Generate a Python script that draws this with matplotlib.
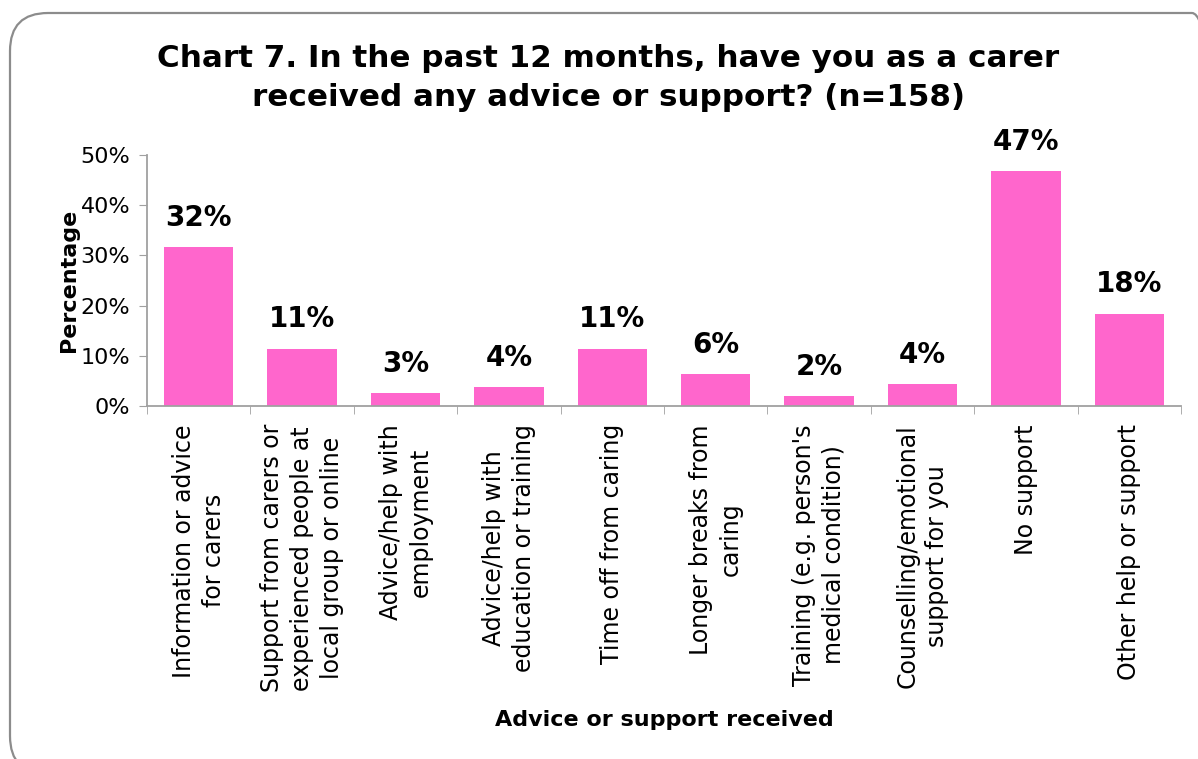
import matplotlib.pyplot as plt
import numpy as np
from matplotlib.patches import FancyBboxPatch
from matplotlib.transforms import IdentityTransform
from matplotlib.ticker import PercentFormatter

plt.rcParams['font.family'] = ['DejaVu Sans']

categories = ["Information or advice\nfor carers",
              "Support from carers or\nexperienced people at\nlocal group or online",
              "Advice/help with\nemployment",
              "Advice/help with\neducation or training",
              "Time off from caring",
              "Longer breaks from\ncaring",
              "Training (e.g. person's\nmedical condition)",
              "Counselling/emotional\nsupport for you",
              "No support",
              "Other help or support"]
percent = [31.6, 11.4, 2.6, 3.8, 11.4, 6.3, 1.9, 4.4, 46.8, 18.4]
yticks = [0, 10, 20, 30, 40, 50]

W, H = 1198, 759
fig = plt.figure(figsize=(W / 100, H / 100), dpi=100)
ax = fig.add_axes([147 / W, 1 - 406 / H, (1181 - 147) / W, (406 - 155) / H])

# rounded frame round the whole chart (pixel coords)
frame = FancyBboxPatch((10, -15), 1220, H - 13 + 15,
                       boxstyle="round,pad=0,rounding_size=38",
                       transform=IdentityTransform(), facecolor='none',
                       edgecolor='#8c8c8c', linewidth=1.6, clip_on=False)
fig.patches.append(frame)

x = np.arange(len(categories))
ax.bar(x, percent, width=0.67, color='#FF66CC')

for xi, v in zip(x, percent):
    ax.annotate(f"{v:.0f}%", (xi, v), xytext=(0, 11), textcoords='offset points',
                ha='center', va='bottom', fontsize=20, fontweight='bold')

ax.set_xlim(-0.5, len(categories) - 0.5)
ax.set_ylim(0, 50)
ax.set_yticks(yticks)
ax.yaxis.set_major_formatter(PercentFormatter(decimals=0))
ax.set_xticks(x)
ax.set_xticklabels(categories, rotation=90, multialignment='center', linespacing=1.3)
ax.set_xticks(np.arange(len(categories) + 1) - 0.5, minor=True)
ax.tick_params(axis='x', which='major', length=0, pad=13, labelsize=17)
ax.tick_params(axis='x', which='minor', length=6, color='#a0a0a0', direction='out')
ax.tick_params(axis='y', length=6, color='#a0a0a0', labelsize=16, pad=6)

for s in ['top', 'right']:
    ax.spines[s].set_visible(False)
for s in ['left', 'bottom']:
    ax.spines[s].set_color('#a0a0a0')
    ax.spines[s].set_linewidth(1.3)

ax.set_ylabel("Percentage", fontsize=16, fontweight='bold', labelpad=1)
fig.text(664 / W, 1 - 720 / H, "Advice or support received",
         ha='center', va='center', fontsize=16, fontweight='bold')

fig.text(608 / W, 1 - 78 / H,
         "Chart 7. In the past 12 months, have you as a carer\nreceived any advice or support? (n=158)",
         ha='center', va='center', fontsize=22.3, fontweight='bold', linespacing=1.42)

fig.savefig("out.png", dpi=100)
